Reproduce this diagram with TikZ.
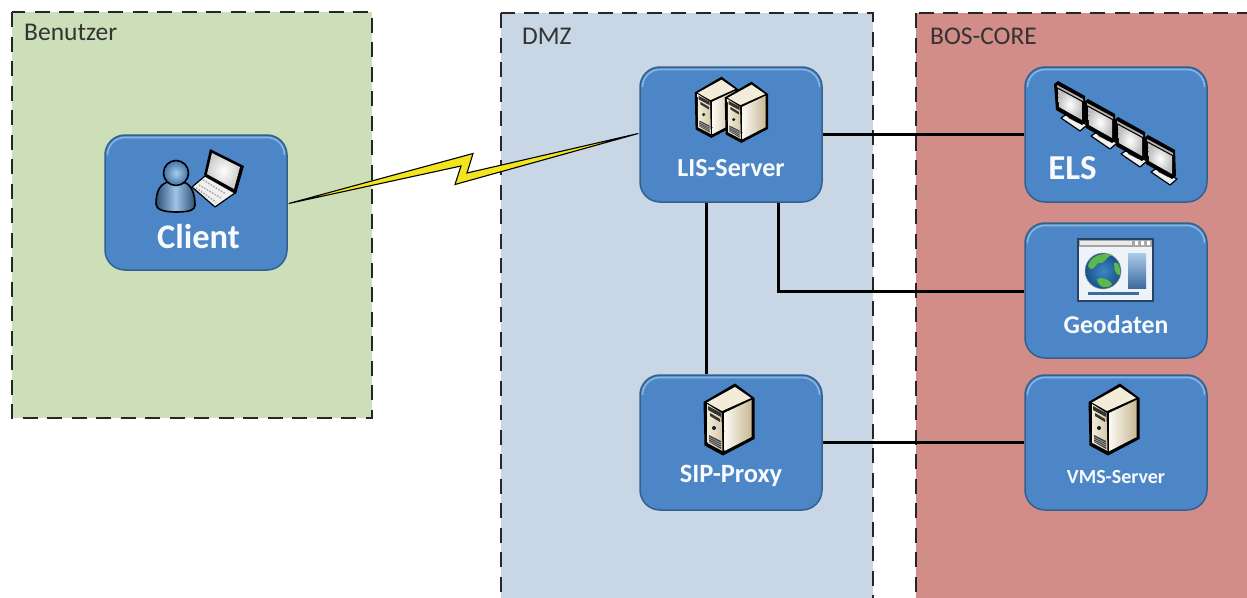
\documentclass[tikz,border=0pt]{standalone}
\usepackage{fontspec}
\setmainfont{Carlito}
\usetikzlibrary{calc}
\definecolor{zonegreen}{HTML}{CDDFB9}
\definecolor{zoneblue}{HTML}{C8D6E5}
\definecolor{zonered}{HTML}{D28D88}
\definecolor{boxfill}{HTML}{4C86C6}
\definecolor{boxedge}{HTML}{33608F}
\definecolor{boxlight}{HTML}{86B5E0}
\definecolor{cream}{HTML}{F3ECD8}
\definecolor{creamdark}{HTML}{C9B995}
\definecolor{bolt}{HTML}{F2E51E}
\definecolor{globesea}{HTML}{1F6FB8}
\definecolor{globeland}{HTML}{5CB84A}
\tikzset{
  zone/.style={draw=black!85,line width=2.6pt,dash pattern=on 15pt off 9.5pt},
  zonelabel/.style={anchor=base west,inner sep=0pt,text=black!80,font=\fontsize{25.5}{28}\selectfont},
  sbox/.style={draw=boxedge,line width=1.5pt,fill=boxfill,rounded corners=20pt,minimum width=182pt,minimum height=135pt,inner sep=0pt,
    path picture={\draw[boxlight,line width=1.6pt,rounded corners=17.5pt]
      ([xshift=2.5pt,yshift=-19pt]path picture bounding box.north west) --
      ([xshift=2.5pt,yshift=-2.5pt]path picture bounding box.north west) --
      ([xshift=-2.5pt,yshift=-2.5pt]path picture bounding box.north east) --
      ([xshift=-2.5pt,yshift=-19pt]path picture bounding box.north east);}},
  boxlabel/.style={inner sep=0pt,text=white!96!boxfill},
  wire/.style={draw=black,line width=3pt},
  icon/.style={draw=black,line width=1.6pt,line join=round},
  pics/server/.style={code={
    \fill[black] (30,-1.5)--(-1.5,17)--(-.5,60.5)--(18,70.5)--(49.5,54)--(49.5,13)--cycle;
    \fill[cream] (30,2)--(2,17.5)--(17,26)--(46,13)--cycle;
    \shade[left color=cream,right color=creamdark!70!cream] (2,19)--(16.5,28)--(17.5,66)--(2.5,58)--cycle;
    \shade[left color=white!70!cream,right color=creamdark] (19,28)--(46.5,15)--(46.5,52)--(19.5,66)--cycle;
    \fill[black!80] (3,21)--(16,28)--(16,32)--(3,25)--cycle;
    \fill[black!80] (5,28)--(15,34)--(15,37)--(5,31)--cycle;
    \fill[black!70!teal] (9,43) circle (2);
    \fill[black!75] (4,50)--(16,56)--(16,64)--(4,57)--cycle;
    \draw[white!70!black,line width=.5pt] (4,52)--(16,58) (4,54)--(16,60) (4,56)--(16,62);
  }},
  pics/usericon/.style={code={
    \path[icon,left color=boxfill!60!black,right color=boxfill!60!black,middle color=boxlight!80!white]
      (156,204) .. controls (156,190) and (161,183) .. (169,182) -- (183,182) .. controls (192,184) and (195,195) .. (195,205)
      .. controls (195,210) and (190,212) .. (176,212) .. controls (165,212) and (156,210) .. (156,204) -- cycle;
    \shade[icon,inner color=boxlight!70!white,outer color=boxfill!85!black] (176,173) circle (12.5);
    \fill[black] (210,149)--(244,166)--(236,194)--(204,175)--cycle;
    \shade[inner color=white,outer color=black!20] (212,153)--(240,167)--(234,189)--(207,174)--cycle;
    \filldraw[draw=black,line width=1.2pt,line join=round,fill=black!6] (205,176)--(235,193)--(215,207)--(192,187)--cycle;
    \draw[black!35,line width=1.5pt,dash pattern=on 1.5pt off 1.5pt] (203,180)--(226,194) (199,185)--(221,198) (196,188)--(216,202);
  }},
  pics/monitor/.style={code={
    \filldraw[draw=black,line width=1.2pt,line join=round,fill=black!5] (1061,118)--(1067,114)--(1087,125)--(1080,131)--cycle;
    \fill[black!70] (1068,113) -- (1078,118) -- (1078,123) -- (1068,118) -- cycle;
    \fill[black] (1054,84)--(1058,81)--(1085,96)--(1086,122)--(1082,125)--(1056,110)--cycle;
    \fill[black!30] (1057,85)--(1083,99)--(1083,101)--(1057,87)--cycle;
    \shade[inner color=white,outer color=black!25] (1058,89)--(1082,102)--(1082,120)--(1059,107)--cycle;
  }},
  pics/webicon/.style={code={
    \filldraw[draw=black!50!boxfill,line width=1.4pt,fill=white!90!boxfill] (1078,239) rectangle (1153,301);
    \fill[black!35] (1079,240) rectangle (1152,247);
    \fill[white!92!black] (1080,241) rectangle (1132,245);
    \fill[white] (1135,241) rectangle (1138,245) (1141,241) rectangle (1144,245) (1147,241) rectangle (1150,245);
    \shade[top color=boxlight!70!white,bottom color=boxfill!80!black] (1128,253) rectangle (1146,288);
    \fill[boxfill!80!black] (1088,292) rectangle (1139,295);
    \shade[draw=black!40,line width=.5pt,inner color=globesea!85!white,outer color=globesea!75!black] (1103,271) circle (18);
    \fill[globeland] (1088,266) .. controls (1090,256) and (1102,252) .. (1112,255) .. controls (1104,258) and (1106,264) .. (1098,263) .. controls (1094,268) and (1092,272) .. (1088,266) -- cycle;
    \fill[globeland] (1097,279) .. controls (1102,276) and (1110,280) .. (1112,284) .. controls (1108,290) and (1098,288) .. (1097,279) -- cycle;
    \fill[globeland] (1114,263) .. controls (1118,260) and (1121,268) .. (1120,275) .. controls (1116,276) and (1114,270) .. (1114,263) -- cycle;
  }},
}
\begin{document}
\begin{tikzpicture}[x=1pt,y=-1pt]
\clip (0,0) rectangle (1247,597);
% zones
\path[zone,fill=zonegreen] (12,12) rectangle (372,418);
\path[zone,fill=zoneblue] (501,13) rectangle (873,640);
\path[zone,fill=zonered] (916,13) rectangle (1290,640);
\node[zonelabel] (zben) at (24,40) {Benutzer};
\node[zonelabel] (zdmz) at (522,44) {DMZ};
\node[zonelabel] (zbos) at (930,44) {BOS-CORE};
% boxes
\node[sbox] (client) at (196,202.5) {};
\node[sbox] (lis) at (731,134.5) {};
\node[sbox] (els) at (1116,134.5) {};
\node[sbox] (geo) at (1116,290.5) {};
\node[sbox] (sip) at (731,442.5) {};
\node[sbox] (vms) at (1116,442.5) {};
% connectors
\draw[wire] (lis.east) -- (els.west);
\draw[wire] ([xshift=-25pt]lis.south) -- ([xshift=-25pt]sip.north);
\draw[wire] ([xshift=47pt]lis.south) |- ([yshift=-1pt]geo.west);
\draw[wire] (sip.east) -- (vms.west);
% lightning
\coordinate (bA) at ($(client.east)+(1,1)$);
\coordinate (bB) at ($(lis.west)+(-1,-1)$);
\filldraw[fill=bolt,draw=black,line width=1.1pt,line join=miter] (bA) -- (473,153.5) -- (467,173) -- (bB) -- (455,184.5) -- (461,166) -- cycle;
% icons
\pic at (0,0) {usericon};
\pic[scale=.85] at (696,78) {server};
\pic[scale=.85] at (726,83) {server};
\pic at (705,385) {server};
\pic at (1090,385) {server};
\pic at (90,54) {monitor};
\pic at (60,36) {monitor};
\pic at (30,18) {monitor};
\pic at (0,0) {monitor};
\pic at (0,0) {webicon};
% labels
\node[boxlabel,font=\bfseries\fontsize{34.5}{36}\selectfont] (lclient) at (198.5,237) {Client};
\node[boxlabel,font=\bfseries\fontsize{26}{28}\selectfont] (llis) at (731,168) {LIS-Server};
\node[boxlabel,font=\bfseries\fontsize{35}{37}\selectfont] (lels) at (1072.5,168) {ELS};
\node[boxlabel,font=\bfseries\fontsize{25.7}{28}\selectfont] (lgeo) at (1116,325) {Geodaten};
\node[boxlabel,font=\bfseries\fontsize{26.4}{28}\selectfont] (lsip) at (731,476) {SIP-Proxy};
\node[boxlabel,font=\bfseries\fontsize{20}{22}\selectfont] (lvms) at (1116,477) {VMS-Server};
\end{tikzpicture}
\end{document}
